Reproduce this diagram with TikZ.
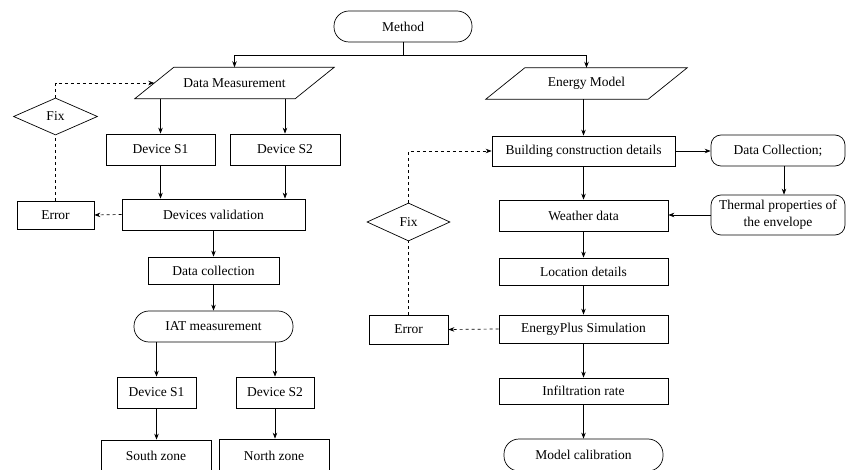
\documentclass[tikz,border=0pt]{standalone}
\usepackage{fontspec}
\setmainfont{Liberation Serif}
\usetikzlibrary{arrows.meta,shapes.geometric,calc}
\begin{document}
\begin{tikzpicture}[x=1pt,y=-1pt,
  every node/.style={font=\fontsize{13.5}{17}\selectfont},
  box/.style={draw, line width=0.7pt, inner sep=0pt, align=center},
  term/.style={box, rounded corners=15pt},
  rbox/.style={box, rounded corners=10pt},
  plain/.style={inner sep=0pt, minimum height=31pt},
  dia/.style={draw, diamond, line width=0.7pt, inner sep=0pt},
  arr/.style={line width=0.7pt, -{Stealth[length=6pt,width=4.5pt]}},
  dasharr/.style={arr, dashed},
  dline/.style={line width=0.7pt, dashed}]
\useasboundingbox (0,0) rectangle (846,470);
% top
\node[term, minimum width=138pt, minimum height=31pt] (method) at (403,26.5) {Method};
\node[plain, minimum width=160pt] (dm) at (234.5,83) {Data Measurement};
\draw[line width=0.7pt] ([xshift=-19.5pt]dm.south west) -- ([xshift=-19.5pt]dm.south east) -- ([xshift=19.5pt]dm.north east) -- ([xshift=19.5pt]dm.north west) -- cycle;
\node[plain, minimum width=162pt] (em) at (586.5,83.5) {Energy Model};
\draw[line width=0.7pt] ([xshift=-19.5pt]em.south west) -- ([xshift=-19.5pt]em.south east) -- ([xshift=19.5pt]em.north east) -- ([xshift=19.5pt]em.north west) -- cycle;
\draw[arr] (method.south) -- ++(0,13) -| (dm.north);
\draw[arr] (method.south) -- ++(0,13) -| (em.north);
% left column
\node[box, minimum width=109pt, minimum height=31pt] (d1) at (160.5,149.5) {Device S1};
\node[box, minimum width=110pt, minimum height=31pt] (d2) at (285,149.5) {Device S2};
\node[box, minimum width=183pt, minimum height=31pt] (dv) at (213.5,214.5) {Devices validation};
\node[box, minimum width=77pt, minimum height=28pt] (err1) at (55.5,215) {Error};
\node[dia, minimum width=84pt, minimum height=37pt] (fix1) at (55.5,116.5) {Fix};
\node[box, minimum width=131pt, minimum height=27pt] (dc) at (213.5,270.5) {Data collection};
\node[term, minimum width=159pt, minimum height=31pt] (iat) at (213.5,326.5) {IAT measurement};
\node[box, minimum width=79pt, minimum height=31pt] (d1b) at (156.5,392.5) {Device S1};
\node[box, minimum width=78pt, minimum height=31pt] (d2b) at (275,392.5) {Device S2};
\node[box, minimum width=110pt, minimum height=32pt] (south) at (156,456) {South zone};
\node[box, minimum width=110pt, minimum height=33pt] (north) at (274,455.5) {North zone};
\draw[arr] (dm.south -| d1.north) -- (d1.north);
\draw[arr] (dm.south -| d2.north) -- (d2.north);
\draw[arr] (d1.south) -- (d1.south |- dv.north);
\draw[arr] (d2.south) -- (d2.south |- dv.north);
\draw[dasharr] (dv.west) -- (err1.east);
\draw[dline] (err1.north) -- (fix1.south);
\draw[dasharr] (fix1.north) |- (dm.west);
\draw[arr] (dv.south) -- (dc.north);
\draw[arr] (dc.south) -- (iat.north);
\draw[arr] (iat.south -| d1b.north) -- (d1b.north);
\draw[arr] (iat.south -| d2b.north) -- (d2b.north);
\draw[arr] (d1b.south) -- (d1b.south |- south.north);
\draw[arr] (d2b.south) -- (d2b.south |- north.north);
% right column
\node[box, minimum width=183pt, minimum height=30pt] (bcd) at (583.5,151) {Building construction details};
\node[rbox, minimum width=134pt, minimum height=31pt] (dcol) at (778,150.5) {Data Collection;};
\node[rbox, minimum width=134pt, minimum height=40pt] (thermal) at (778,215) {Thermal properties of\\the envelope};
\node[box, minimum width=169pt, minimum height=31pt] (wd) at (583.5,215.5) {Weather data};
\node[box, minimum width=169pt, minimum height=27pt] (ld) at (583.5,271.5) {Location details};
\node[box, minimum width=169pt, minimum height=28pt] (eps) at (583.5,329) {EnergyPlus Simulation};
\node[box, minimum width=79pt, minimum height=29pt] (err2) at (408.5,329.5) {Error};
\node[dia, minimum width=83pt, minimum height=38pt] (fix2) at (408.5,222) {Fix};
\node[box, minimum width=169pt, minimum height=26pt] (inf) at (583.5,391) {Infiltration rate};
\node[term, minimum width=159pt, minimum height=32pt] (mc) at (583.5,455) {Model calibration};
\draw[arr] (em.south -| bcd.north) -- (bcd.north);
\draw[arr] (bcd.east) -- (bcd.east -| dcol.west);
\draw[arr] ([xshift=6pt]dcol.south) -- ([xshift=6pt]thermal.north);
\draw[arr] (thermal.west) -- (thermal.west -| wd.east);
\draw[arr] (bcd.south) -- (wd.north);
\draw[arr] (wd.south) -- (ld.north);
\draw[arr] (ld.south) -- (eps.north);
\draw[dasharr] (eps.west) -- (err2.east);
\draw[dline] (err2.north) -- (fix2.south);
\draw[dasharr] (fix2.north) |- (bcd.west);
\draw[arr] (eps.south) -- (inf.north);
\draw[arr] (inf.south) -- (mc.north);
\end{tikzpicture}
\end{document}
